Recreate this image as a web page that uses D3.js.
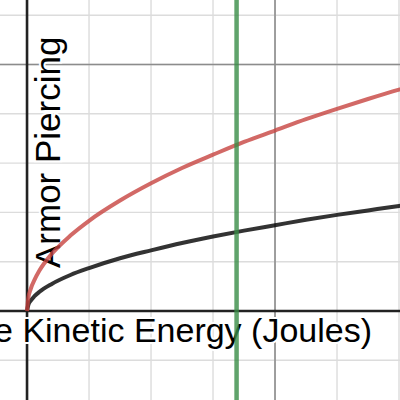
<!DOCTYPE html>
<html>
<head>
<meta charset="utf-8">
<script src="https://cdn.jsdelivr.net/npm/d3@7"></script>
<style>
  html, body { margin: 0; padding: 0; background: #fff; }
  svg { display: block; }
</style>
</head>
<body>
<div id="chart"></div>
<script>
// values
const energy = [0, 0.01, 0.03, 0.06, 0.1, 0.2, 0.35, 0.5, 0.75, 1, 1.25, 1.5, 1.75, 2, 2.25, 2.5, 2.75, 3, 3.2];
const redSeries = [0, 0.26, 0.45, 0.63, 0.82, 1.16, 1.53, 1.83, 2.24, 2.59, 2.9, 3.17, 3.43, 3.66, 3.89, 4.1, 4.3, 4.49, 4.63];
const blackSeries = [0, 0.12, 0.21, 0.3, 0.39, 0.55, 0.73, 0.87, 1.07, 1.23, 1.38, 1.51, 1.63, 1.74, 1.85, 1.95, 2.04, 2.13, 2.2];
const markerX = 1.69;

const xMinor = [-0.5, 0, 0.5, 1, 1.5, 2, 2.5, 3];
const xMajor = [2];
const yMinor = [-1, 0, 1, 2, 3, 4, 5, 6];
const yMajor = [5];

const xLabel = "Projectile Kinetic Energy (Joules)";
const yLabel = "Armor Piercing";

const width = 400;
const height = 400;

const svg = d3.select("#chart")
    .append("svg")
    .attr("width", width)
    .attr("height", height);

const x = d3.scaleLinear().domain([-0.218, 3.008]).range([0, width]);
const y = d3.scaleLinear().domain([-1.805, 6.308]).range([height, 0]);

// grid
svg.selectAll(".vminor").data(xMinor).enter().append("line")
    .attr("x1", d => x(d)).attr("x2", d => x(d))
    .attr("y1", 0).attr("y2", height)
    .style("stroke", "#dcdcdc").style("stroke-width", 1.4);
svg.selectAll(".hminor").data(yMinor).enter().append("line")
    .attr("y1", d => y(d)).attr("y2", d => y(d))
    .attr("x1", 0).attr("x2", width)
    .style("stroke", "#dcdcdc").style("stroke-width", 1.4);
svg.selectAll(".vmajor").data(xMajor).enter().append("line")
    .attr("x1", d => x(d)).attr("x2", d => x(d))
    .attr("y1", 0).attr("y2", height)
    .style("stroke", "#8c8c8c").style("stroke-width", 1.6);
svg.selectAll(".hmajor").data(yMajor).enter().append("line")
    .attr("y1", d => y(d)).attr("y2", d => y(d))
    .attr("x1", 0).attr("x2", width)
    .style("stroke", "#8c8c8c").style("stroke-width", 1.6);

// axes
svg.append("line")
    .attr("x1", x(0)).attr("x2", x(0)).attr("y1", 0).attr("y2", height)
    .style("stroke", "#222").style("stroke-width", 2.6);
svg.append("line")
    .attr("y1", y(0)).attr("y2", y(0)).attr("x1", 0).attr("x2", width)
    .style("stroke", "#222").style("stroke-width", 2.6);

// labels with white halo
svg.append("text")
    .attr("x", 372).attr("y", 342)
    .attr("text-anchor", "end")
    .style("font-family", "'Liberation Sans', Arial, sans-serif")
    .style("font-size", "34px")
    .style("fill", "#000")
    .style("stroke", "#fff").style("stroke-width", 4)
    .style("paint-order", "stroke")
    .text(xLabel);

svg.append("text")
    .attr("transform", "translate(60,268) rotate(-90)")
    .attr("text-anchor", "start")
    .style("font-family", "'Liberation Sans', Arial, sans-serif")
    .style("font-size", "35px")
    .style("fill", "#000")
    .style("stroke", "#fff").style("stroke-width", 4)
    .style("paint-order", "stroke")
    .text(yLabel);

// curves
const line = d3.line()
    .x((d, i) => x(energy[i]))
    .y(d => y(d))
    .curve(d3.curveMonotoneX);

svg.append("path")
    .attr("d", line(blackSeries))
    .style("fill", "none")
    .style("stroke", "#000")
    .style("stroke-opacity", 0.8)
    .style("stroke-width", 4);

svg.append("path")
    .attr("d", line(redSeries))
    .style("fill", "none")
    .style("stroke", "#c74440")
    .style("stroke-opacity", 0.8)
    .style("stroke-width", 4);

svg.append("line")
    .attr("x1", x(markerX)).attr("x2", x(markerX))
    .attr("y1", 0).attr("y2", height)
    .style("stroke", "#388c46")
    .style("stroke-opacity", 0.8)
    .style("stroke-width", 4.5);
</script>
</body>
</html>
